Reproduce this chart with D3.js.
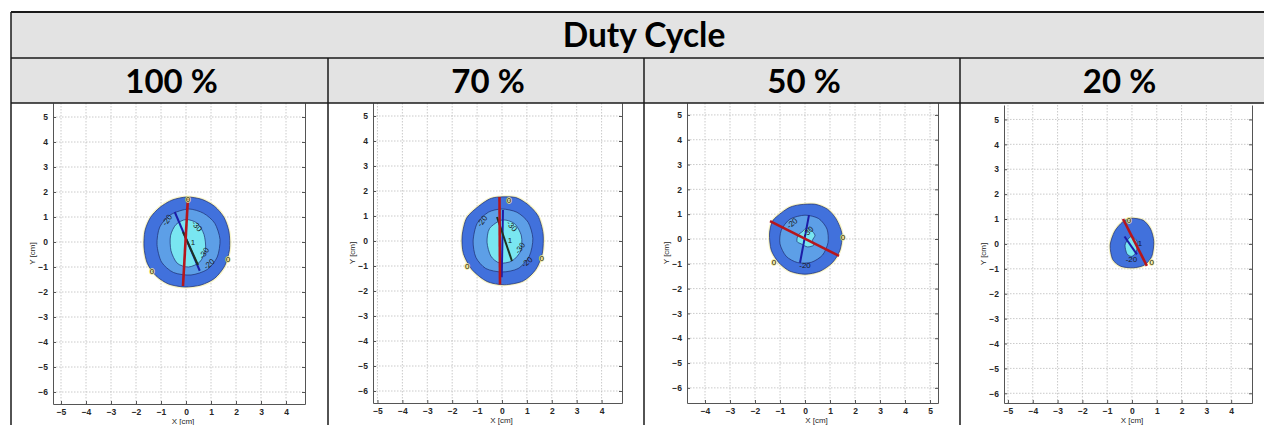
<!DOCTYPE html>
<html>
<head>
<meta charset="utf-8">
<script src="https://cdn.jsdelivr.net/npm/d3@7"></script>
<style>
  body { margin: 0; background: #fff; }
  svg { display: block; }
</style>
</head>
<body>
<div id="chart-area"></div>
<script>
// ---- data ----
const title = 'Duty Cycle';
const dutyCycles = ['100 %', '70 %', '50 %', '20 %'];

const xTicksA = [-5, -4, -3, -2, -1, 0, 1, 2, 3, 4];
const xTicksB = [-4, -3, -2, -1, 0, 1, 2, 3, 4, 5];
const yTicks = [-6, -5, -4, -3, -2, -1, 0, 1, 2, 3, 4, 5];

// contour outlines [x cm, y cm]
const outer100 = [[0.05, 1.8], [0.65, 1.7], [1.15, 1.42], [1.52, 0.98], [1.72, 0.4], [1.74, -0.3], [1.55, -0.95], [1.15, -1.45], [0.6, -1.72], [-0.05, -1.8], [-0.7, -1.68], [-1.2, -1.35], [-1.55, -0.85], [-1.68, -0.2], [-1.64, 0.45], [-1.42, 0.98], [-1.05, 1.38], [-0.55, 1.68]];
const mid100 = [[0.1, 1.32], [0.7, 1.15], [1.15, 0.75], [1.36, 0.1], [1.25, -0.6], [0.85, -1.1], [0.2, -1.32], [-0.5, -1.22], [-0.98, -0.8], [-1.16, -0.1], [-1.05, 0.6], [-0.6, 1.1]];
const inner100 = [[0.0, 0.9], [0.45, 0.75], [0.72, 0.3], [0.78, -0.3], [0.55, -0.8], [0.1, -1.0], [-0.35, -0.85], [-0.6, -0.35], [-0.62, 0.25], [-0.4, 0.7]];

const outer70 = [[-0.1, 1.76], [0.55, 1.74], [1.05, 1.45], [1.45, 1.0], [1.65, 0.3], [1.62, -0.5], [1.35, -1.15], [0.85, -1.6], [0.1, -1.75], [-0.6, -1.62], [-1.2, -1.15], [-1.55, -0.5], [-1.6, 0.2], [-1.42, 0.92], [-0.95, 1.38], [-0.5, 1.68]];
const mid70 = [[0.0, 1.28], [0.6, 1.15], [1.05, 0.75], [1.24, 0.1], [1.1, -0.6], [0.65, -1.1], [0.0, -1.24], [-0.65, -1.1], [-1.05, -0.65], [-1.16, 0.0], [-1.0, 0.7], [-0.55, 1.15]];
const inner70 = [[0.0, 0.84], [0.5, 0.7], [0.78, 0.2], [0.75, -0.4], [0.4, -0.8], [-0.1, -0.88], [-0.45, -0.6], [-0.6, -0.05], [-0.5, 0.5]];

const outer50 = [[-0.2, 1.38], [0.4, 1.4], [0.9, 1.2], [1.25, 0.8], [1.48, 0.2], [1.4, -0.45], [1.1, -0.95], [0.6, -1.3], [0.0, -1.42], [-0.6, -1.3], [-1.05, -0.95], [-1.35, -0.45], [-1.42, 0.2], [-1.3, 0.72], [-0.95, 1.05], [-0.6, 1.28]];
const mid50 = [[0.0, 0.96], [0.55, 0.82], [0.88, 0.4], [0.92, -0.15], [0.7, -0.65], [0.25, -0.94], [-0.3, -0.95], [-0.75, -0.7], [-1.0, -0.2], [-0.95, 0.35], [-0.6, 0.8]];
const inner50 = [[0.05, 0.44], [0.25, 0.35], [0.4, 0.15], [0.3, -0.05], [0.35, -0.25], [0.1, -0.32], [-0.15, -0.2], [-0.32, -0.1], [-0.28, 0.15], [-0.1, 0.3]];

const outer20 = [[-0.05, 1.03], [0.45, 0.95], [0.75, 0.6], [0.88, 0.1], [0.8, -0.5], [0.5, -0.85], [0.05, -0.96], [-0.45, -0.9], [-0.78, -0.62], [-0.88, -0.05], [-0.7, 0.5], [-0.38, 0.88]];
const mid20 = [];
const inner20 = [[0.0, 0.3], [0.2, 0.1], [0.18, -0.3], [0.0, -0.5], [-0.2, -0.4], [-0.28, -0.05], [-0.15, 0.2]];

// diameter lines
const redLines = [
  [[0.08, 1.8], [-0.12, -1.76]],
  [[-0.1, 1.76], [-0.08, -1.74]],
  [[-1.4, 0.72], [1.36, -0.68]],
  [[-0.36, 1.0], [0.6, -0.88]]
];
const blueLines = [
  [[-0.45, 1.2], [0.55, -1.15]],
  [[0.04, 1.24], [-0.01, -1.45]],
  [[0.16, 0.96], [-0.2, -0.96]],
  [[-0.3, 0.3], [0.2, -0.42]]
];
const darkLines = [
  [[-0.12, 0.4], [0.48, -0.92]],
  [[-0.2, 0.96], [0.4, -0.8]],
  [],
  []
];

// contour labels
const labels100 = [
  {t: '0', x: 0.08, y: 1.72, a: 0}, {t: '-20', x: -0.76, y: 0.88, a: -55},
  {t: '-30', x: 0.44, y: 0.64, a: 50}, {t: '1', x: 0.28, y: 0.0, a: 0},
  {t: '-30', x: 0.72, y: -0.44, a: -55}, {t: '-20', x: 0.92, y: -0.88, a: -40},
  {t: '0', x: 1.68, y: -0.68, a: 0}, {t: '0', x: -1.36, y: -1.16, a: 0}
];
const labels70 = [
  {t: '0', x: 0.28, y: 1.65, a: 0}, {t: '-20', x: -0.8, y: 0.8, a: -55},
  {t: '-30', x: 0.4, y: 0.6, a: 50}, {t: '1', x: 0.32, y: 0.04, a: 0},
  {t: '-30', x: 0.72, y: -0.28, a: -55}, {t: '-20', x: 1.0, y: -0.84, a: -40},
  {t: '0', x: 1.6, y: -0.68, a: 0}, {t: '0', x: -1.4, y: -1.0, a: 0}
];
const labels50 = [
  {t: '-20', x: -0.52, y: 0.64, a: -40}, {t: '-30', x: 0.12, y: 0.3, a: -40},
  {t: '-20', x: 0.0, y: -1.04, a: 0}, {t: '0', x: 1.52, y: 0.08, a: 0},
  {t: '0', x: -1.24, y: -0.92, a: 0}
];
const labels20 = [
  {t: '0', x: -0.12, y: 0.96, a: 0}, {t: '0', x: 0.8, y: -0.72, a: 0},
  {t: '-20', x: -0.02, y: -0.6, a: 0}, {t: '1', x: 0.32, y: 0.04, a: 0}
];

const outers = [outer100, outer70, outer50, outer20];
const mids = [mid100, mid70, mid50, mid20];
const inners = [inner100, inner70, inner50, inner20];
const labelSets = [labels100, labels70, labels50, labels20];
const xTickSets = [xTicksA, xTicksA, xTicksB, xTicksA];
const xDomains = [[-5.32, 4.76], [-5.18, 4.82], [-4.72, 5.32], [-5.16, 4.84]];
const yDomains = [[-6.48, 5.56], [-6.48, 5.52], [-6.61, 5.48], [-6.39, 5.58]];

// ---- layout ----
const W = 1264, H = 425;
const tableLeft = 11, tableTop = 12, row1 = 58, row2 = 103;
const colEdges = [11, 328, 644, 960, 1290];
const frames = [
  {left: 53, right: 305, top: 103, bottom: 404},
  {left: 373, right: 622, top: 103, bottom: 403},
  {left: 687, right: 938, top: 103, bottom: 403},
  {left: 1004, right: 1252, top: 105, bottom: 403}
];
const tickFont = '"Liberation Sans", Arial, sans-serif';

const svg = d3.select('#chart-area')
  .append('svg')
  .attr('width', W)
  .attr('height', H);

svg.append('rect').attr('width', W).attr('height', H).attr('fill', '#fff');

// header cells
svg.append('rect')
  .attr('x', tableLeft).attr('y', tableTop)
  .attr('width', W - tableLeft + 5).attr('height', row2 - tableTop)
  .attr('fill', '#e3e3e3');

svg.append('text')
  .attr('x', 644).attr('y', 47)
  .attr('text-anchor', 'middle')
  .attr('font-family', 'Lato, "Open Sans", sans-serif')
  .attr('font-weight', 700)
  .attr('font-size', '33.5px')
  .text(title);

dutyCycles.forEach((d, i) => {
  svg.append('text')
    .attr('x', (colEdges[i] + Math.min(colEdges[i + 1], 1275)) / 2 + 2)
    .attr('y', 93)
    .attr('text-anchor', 'middle')
    .attr('font-family', 'Lato, "Open Sans", sans-serif')
    .attr('font-weight', 700)
    .attr('font-size', '33px')
    .text(d);
});

const curve = d3.line().curve(d3.curveCardinalClosed.tension(0.2));

frames.forEach((f, i) => {
  const x = d3.scaleLinear().domain(xDomains[i]).range([f.left, f.right]);
  const y = d3.scaleLinear().domain(yDomains[i]).range([f.bottom, f.top]);
  const g = svg.append('g');

  const clipId = 'clip' + i;
  svg.append('clipPath').attr('id', clipId)
    .append('rect')
    .attr('x', f.left).attr('y', f.top)
    .attr('width', f.right - f.left).attr('height', f.bottom - f.top);

  // grid
  g.selectAll('.gx').data(xTickSets[i]).enter().append('line')
    .attr('x1', d => x(d)).attr('x2', d => x(d))
    .attr('y1', f.top).attr('y2', f.bottom)
    .attr('stroke', '#bdbdbd').attr('stroke-dasharray', '1.5,1.5').attr('stroke-width', 0.8);
  g.selectAll('.gy').data(yTicks).enter().append('line')
    .attr('y1', d => y(d)).attr('y2', d => y(d))
    .attr('x1', f.left).attr('x2', f.right)
    .attr('stroke', '#bdbdbd').attr('stroke-dasharray', '1.5,1.5').attr('stroke-width', 0.8);

  const plot = g.append('g').attr('clip-path', `url(#${clipId})`);
  const toPx = pts => pts.map(p => [x(p[0]), y(p[1])]);

  // level 0 halo
  plot.append('path').attr('d', curve(toPx(outers[i])))
    .attr('fill', 'none').attr('stroke', '#f2eda0').attr('stroke-width', 3).attr('opacity', 0.6);
  [[outers[i], '#4171dc'], [mids[i], '#5d9fe7'], [inners[i], '#79e6f1']].forEach(([pts, col]) => {
    if (!pts.length) return;
    plot.append('path').attr('d', curve(toPx(pts)))
      .attr('fill', col).attr('stroke', '#1d2d6e').attr('stroke-width', 0.7);
  });

  const seg = (pts, col, w) => {
    if (!pts.length) return;
    plot.append('line')
      .attr('x1', x(pts[0][0])).attr('y1', y(pts[0][1]))
      .attr('x2', x(pts[1][0])).attr('y2', y(pts[1][1]))
      .attr('stroke', col).attr('stroke-width', w);
  };
  if (i === 3) {
    seg(redLines[i], '#b5161c', 2.6);
    seg(blueLines[i], '#1c1ca6', 2);
  } else {
    seg(blueLines[i], '#1c1ca6', 2);
    seg(darkLines[i], '#1e3322', 2);
    seg(redLines[i], '#b5161c', 2.6);
  }

  labelSets[i].forEach(l => {
    plot.append('text')
      .attr('transform', `translate(${x(l.x)},${y(l.y)}) rotate(${l.a})`)
      .attr('text-anchor', 'middle')
      .attr('dy', '0.35em')
      .attr('font-family', tickFont)
      .attr('font-size', '8px')
      .attr('fill', '#1a1a1a')
      .attr('stroke', l.t === '0' ? '#f0e890' : 'none')
      .attr('stroke-width', 1.5)
      .attr('paint-order', 'stroke')
      .text(l.t);
  });

  // axes (inward ticks)
  const styleAxis = sel => {
    sel.select('.domain').attr('stroke', '#555');
    sel.selectAll('.tick line').attr('stroke', '#555');
    sel.selectAll('.tick text')
      .attr('font-family', tickFont)
      .attr('font-weight', 700)
      .attr('font-size', '8.5px')
      .attr('fill', '#262626');
  };
  g.append('g').attr('transform', `translate(0,${f.bottom})`)
    .call(d3.axisBottom(x).tickValues(xTickSets[i]).tickSizeInner(-3).tickSizeOuter(0).tickPadding(5))
    .call(styleAxis);
  g.append('g').attr('transform', `translate(${f.left},0)`)
    .call(d3.axisLeft(y).tickValues(yTicks).tickSizeInner(-3).tickSizeOuter(0).tickPadding(5))
    .call(styleAxis);
  g.append('g').attr('transform', `translate(${f.right},0)`)
    .call(d3.axisRight(y).tickValues(yTicks).tickSizeInner(-3).tickSizeOuter(0).tickFormat(''))
    .call(styleAxis);

  g.append('text')
    .attr('x', (f.left + f.right) / 2 + 4).attr('y', f.bottom + 20)
    .attr('text-anchor', 'middle')
    .attr('font-family', tickFont)
    .attr('font-size', '8px').attr('fill', '#262626')
    .text('X [cm]');
  g.append('text')
    .attr('transform', `translate(${f.left - 18},${(f.top + f.bottom) / 2}) rotate(-90)`)
    .attr('text-anchor', 'middle')
    .attr('font-family', tickFont)
    .attr('font-size', '8px').attr('fill', '#262626')
    .text('Y [cm]');
});

// table borders
const border = (x1, y1, x2, y2, w) => svg.append('line')
  .attr('x1', x1).attr('y1', y1).attr('x2', x2).attr('y2', y2)
  .attr('stroke', '#1a1a1a').attr('stroke-width', w);
border(tableLeft, tableTop, W, tableTop, 2);
border(tableLeft, row1, W, row1, 1.5);
border(tableLeft, row2, W, row2, 1.5);
border(tableLeft, tableTop, tableLeft, H, 1.5);
colEdges.slice(1, 4).forEach(cx => border(cx, row1, cx, H, 1.5));
</script>
</body>
</html>
